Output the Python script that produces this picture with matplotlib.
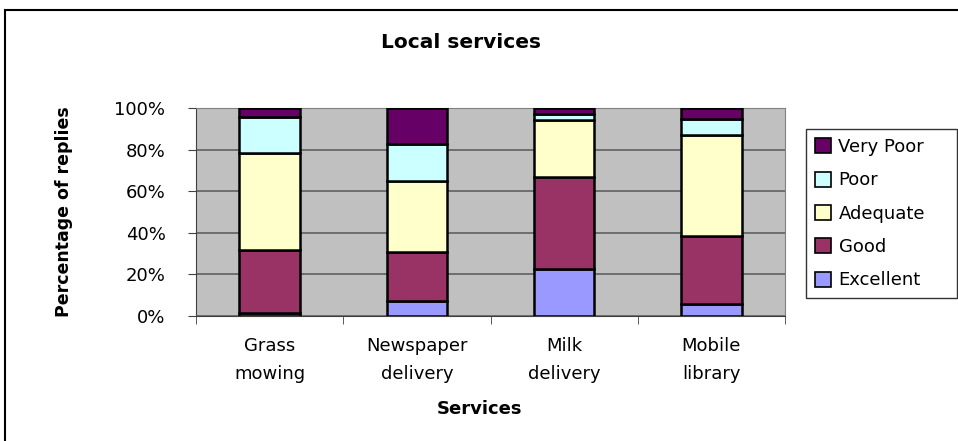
import matplotlib.pyplot as plt
import matplotlib.patches as mpatches
import numpy as np

# survey replies per service, in percent
services = ["Grass\nmowing", "Newspaper\ndelivery", "Milk\ndelivery", "Mobile\nlibrary"]
ratings = ["Excellent", "Good", "Adequate", "Poor", "Very Poor"]
excellent = [1.5, 7, 22.5, 6]
good = [30, 24, 44.5, 32.5]
adequate = [47, 34, 27, 48.5]
poor = [17, 17.5, 3, 7.5]
very_poor = [4.5, 17.5, 3, 5.5]
colours = ["#9999FF", "#993366", "#FFFFCC", "#CCFFFF", "#660066"]

plt.rcParams['font.family'] = ['DejaVu Sans']

fig = plt.figure(figsize=(9.58, 4.41), dpi=100)
ax = fig.add_axes([196/958, 1 - 316/441, (785-196)/958, (316-108)/441])
ax.set_facecolor("#C0C0C0")

x = np.arange(len(services))
bottom = np.zeros(len(services))
handles = []
for vals, name, col in zip([excellent, good, adequate, poor, very_poor], ratings, colours):
    b = ax.bar(x, vals, 0.41, bottom=bottom, color=col, edgecolor="black",
               linewidth=1.8, label=name, zorder=3)
    handles.append(b)
    bottom += np.array(vals)

ax.set_xlim(-0.5, 3.5)
ax.set_ylim(0, 100)
ax.set_yticks(np.arange(0, 101, 20))
ax.set_yticklabels([f"{v}%" for v in range(0, 101, 20)], fontsize=13)
ax.yaxis.grid(True, color="#606060", linewidth=1.2, zorder=1)
ax.set_xticks(x)
ax.set_xticklabels(services, fontsize=13, linespacing=1.75)
ax.set_xticks(np.arange(-0.5, 4, 1), minor=True)
ax.tick_params(axis="x", which="major", length=0, pad=15)
ax.tick_params(axis="x", which="minor", length=5.5, direction="out", color="#404040")
ax.tick_params(axis="y", length=6, direction="out", color="#404040", pad=16)

for side in ["top", "right"]:
    ax.spines[side].set_color("#808080")
ax.spines["left"].set_color("#404040")
ax.spines["bottom"].set_color("#404040")

ax.set_xlabel("Services", fontsize=13, fontweight="bold")
ax.xaxis.set_label_coords((480 - 196) / 589, (316 - 400) / 208)
ax.set_ylabel("Percentage of replies", fontsize=12.5, fontweight="bold")
ax.yaxis.set_label_coords((73 - 196) / 589, 0.5)
fig.text(461/958, 1 - 42/441, "Local services", ha="center", va="center",
         fontsize=14.5, fontweight="bold")

leg = fig.legend(handles[::-1], ratings[::-1], loc="upper left",
                 bbox_to_anchor=(806/958, 1 - 295/441, 151/958, 166/441),
                 mode="expand", fontsize=13,
                 frameon=True, fancybox=False, edgecolor="black",
                 handlelength=0.9, handleheight=0.9, handletextpad=0.4,
                 labelspacing=0.85, borderpad=0.5, borderaxespad=0)
leg.get_frame().set_linewidth(1.0)
for h in leg.legend_handles:
    h.set_linewidth(1.2)

# frame round the whole chart
fig.patches.append(mpatches.Rectangle((5/958, -0.02), 1.0, 1 - 10/441 + 0.02,
                                      transform=fig.transFigure, fill=False,
                                      edgecolor="black", linewidth=1.5))

fig.savefig("out.png", dpi=100)
